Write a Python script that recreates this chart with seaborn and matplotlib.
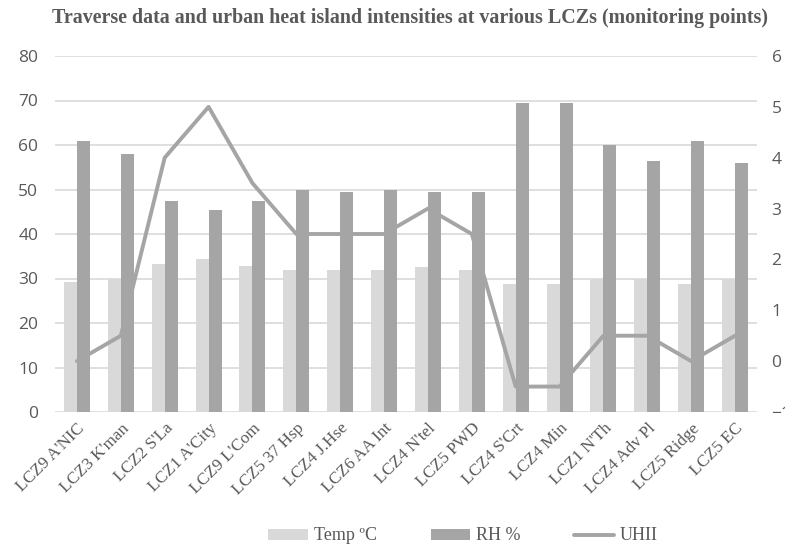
import numpy as np
import pandas as pd
import matplotlib
matplotlib.use("Agg")
import matplotlib.pyplot as plt
import seaborn as sns

categories = ["LCZ9 A'NIC", "LCZ3 K'man", "LCZ2 S'La", "LCZ1 A'City", "LCZ9 L'Com",
              "LCZ5 37 Hsp", "LCZ4 J.Hse", "LCZ6 AA Int", "LCZ4 N'tel", "LCZ5 PWD",
              "LCZ4 S'Crt", "LCZ4 Min", "LCZ1 N'Th", "LCZ4 Adv Pl", "LCZ5 Ridge", "LCZ5 EC"]
temp = [29.3, 29.8, 33.3, 34.3, 32.9, 31.8, 31.8, 31.8, 32.5, 31.8,
        28.7, 28.7, 30.0, 30.0, 28.7, 30.0]
rh = [61.0, 58.0, 47.5, 45.5, 47.5, 50.0, 49.5, 50.0, 49.5, 49.5,
      69.5, 69.5, 60.0, 56.5, 61.0, 56.0]
uhii = [0.0, 0.5, 4.0, 5.0, 3.5, 2.5, 2.5, 2.5, 3.0, 2.5,
        -0.5, -0.5, 0.5, 0.5, 0.0, 0.5]
series_names = ["Temp ºC", "RH %", "UHII"]
left_ticks = [0, 10, 20, 30, 40, 50, 60, 70, 80]
right_ticks = [-1, 0, 1, 2, 3, 4, 5, 6]

sns.set_theme(style="white")
plt.rcParams['font.family'] = ['DejaVu Sans']

LIGHT = "#d9d9d9"
DARK = "#a5a5a5"
TXT = "#595959"

df = pd.DataFrame({"cat": categories, series_names[0]: temp, series_names[1]: rh})
long = df.melt(id_vars="cat", var_name="series", value_name="value")

fig = plt.figure(figsize=(7.85, 5.47), dpi=100)
ax = fig.add_axes([55/785, 1-412/547, (757-55)/785, (412-56)/547])

sns.barplot(data=long, x="cat", y="value", hue="series", order=categories,
            hue_order=series_names[:2], palette=[LIGHT, DARK], width=0.59,
            saturation=1, errorbar=None, ax=ax, legend=True, linewidth=0)
h_bars, l_bars = ax.get_legend_handles_labels()
if ax.get_legend() is not None:
    ax.get_legend().remove()

ax.set_ylim(0, 80)
ax.set_yticks(left_ticks)
ax.set_xlim(-0.5, len(categories) - 0.5)
ax.yaxis.grid(True, color="#d9d9d9", linewidth=1.2)
ax.set_axisbelow(True)
for s in ax.spines.values():
    s.set_visible(False)
ax.set_xlabel("")
ax.set_ylabel("")
ax.tick_params(axis="y", length=0, pad=12, labelsize=12.5, labelcolor=TXT)
ax.tick_params(axis="x", length=0, pad=6)
ax.set_xticks(range(len(categories)))
ax.set_xticklabels(categories, rotation=45, ha="right", rotation_mode="anchor",
                   fontsize=12.3, color=TXT, family="Liberation Serif")
for lab in ax.get_yticklabels():
    lab.set_family("Open Sans")

ax2 = ax.twinx()
sns.lineplot(x=np.arange(len(categories)), y=uhii, ax=ax2, color=DARK,
             linewidth=2.8, label=series_names[2], legend=False)
ax2.set_ylim(-1, 6)
ax2.set_yticks(right_ticks)
ax2.set_xlim(-0.5, len(categories) - 0.5)
for s in ax2.spines.values():
    s.set_visible(False)
ax2.grid(False)
ax2.set_ylabel("")
ax2.tick_params(axis="y", length=0, pad=10.5, labelsize=12.5, labelcolor=TXT)
for lab in ax2.get_yticklabels():
    lab.set_family("Open Sans")
h_line, l_line = ax2.get_legend_handles_labels()

fig.suptitle("Traverse data and urban heat island intensities at various LCZs (monitoring points)",
             x=410/785, y=1-8/547, va="top", fontsize=14.4, fontweight="bold",
             family="Liberation Serif", color=TXT)

fig.legend(h_bars + h_line, l_bars + l_line, loc="center", bbox_to_anchor=(463/785, 1-536/547),
           ncol=3, frameon=False, prop={"family": "Liberation Serif", "size": 13},
           labelcolor=TXT, handlelength=2.2, handleheight=0.55, columnspacing=3.0,
           handletextpad=0.3)

fig.savefig("out.png", dpi=100)
